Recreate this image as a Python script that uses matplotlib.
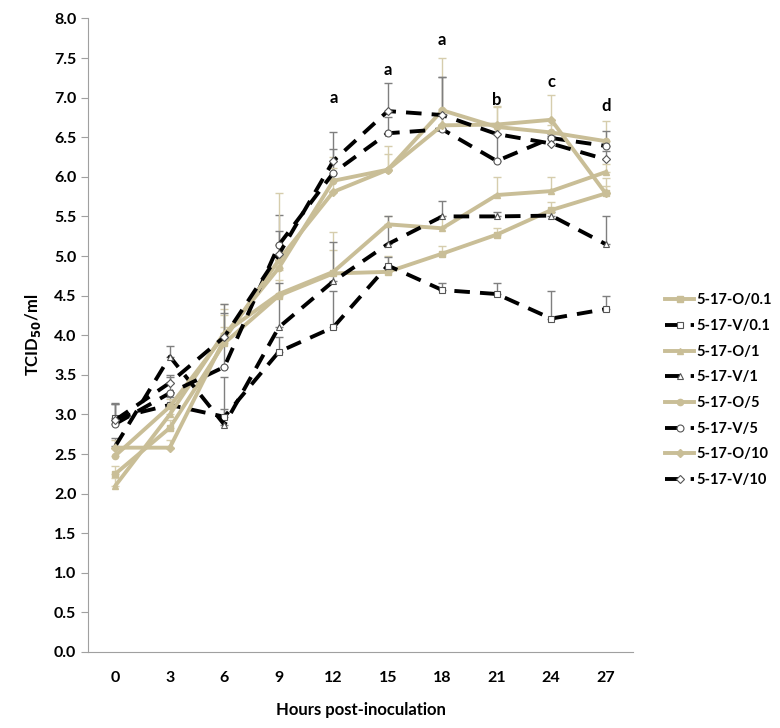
import matplotlib
matplotlib.use("Agg")
import matplotlib.pyplot as plt
import numpy as np

plt.rcParams['font.family'] = ['Lato', 'DejaVu Sans']

hours = [0, 3, 6, 9, 12, 15, 18, 21, 24, 27]

labels = ["5-17-O/0.1", "5-17-V/0.1", "5-17-O/1", "5-17-V/1",
          "5-17-O/5", "5-17-V/5", "5-17-O/10", "5-17-V/10"]

o_01 = [2.25, 2.83, 3.90, 4.50, 4.78, 4.80, 5.03, 5.27, 5.58, 5.79]
v_01 = [2.95, 3.12, 2.97, 3.79, 4.10, 4.88, 4.57, 4.52, 4.21, 4.33]
o_1 = [2.10, 3.00, 4.03, 4.52, 4.80, 5.40, 5.35, 5.77, 5.82, 6.06]
v_1 = [2.60, 3.73, 2.87, 4.10, 4.68, 5.15, 5.50, 5.50, 5.51, 5.15]
o_5 = [2.48, 3.10, 4.00, 4.85, 5.95, 6.09, 6.84, 6.63, 6.56, 6.45]
v_5 = [2.88, 3.27, 3.60, 5.14, 6.05, 6.55, 6.60, 6.20, 6.49, 6.39]
o_10 = [2.58, 2.58, 3.95, 4.95, 5.81, 6.09, 6.65, 6.66, 6.72, 5.79]
v_10 = [2.93, 3.40, 3.98, 5.02, 6.20, 6.83, 6.78, 6.54, 6.42, 6.22]

# upper error bars
o_01_err = [0.10, 0.10, 0.20, 0.20, 0.30, 0.20, 0.10, 0.08, 0.10, 0.10]
v_01_err = [0.20, 0.10, 0.10, 0.19, 0.46, 0.11, 0.09, 0.14, 0.35, 0.16]
o_1_err = [0.10, 0.10, 0.30, 0.30, 0.50, 0.10, 0.15, 0.23, 0.18, 0.10]
v_1_err = [0.10, 0.14, 0.60, 0.56, 0.50, 0.35, 0.20, 0.05, 0.05, 0.35]
o_5_err = [0.10, 0.10, 0.40, 0.30, 0.30, 0.30, 0.66, 0.25, 0.10, 0.25]
v_5_err = [0.25, 0.20, 0.79, 0.38, 0.30, 0.20, 0.66, 0.34, 0.05, 0.19]
o_10_err = [0.10, 0.10, 0.30, 0.85, 0.30, 0.20, 0.20, 0.23, 0.31, 0.20]
v_10_err = [0.20, 0.10, 0.30, 0.30, 0.36, 0.35, 0.48, 0.10, 0.10, 0.10]

letters = ["a", "a", "a", "b", "c", "d"]
letter_hours = [12, 15, 18, 21, 24, 27]
letter_y = [7.0, 7.35, 7.73, 6.97, 7.2, 6.9]

tan = '#C9BE97'
tan_err = '#D6CDAD'

fig = plt.figure(figsize=(7.8, 7.28), dpi=100)
ax = fig.add_axes([0.113, 0.1044, 0.6985, 0.8703])

series = [
    (o_01, o_01_err, 's', 'o'),
    (v_01, v_01_err, 's', 'v'),
    (o_1, o_1_err, '^', 'o'),
    (v_1, v_1_err, '^', 'v'),
    (o_5, o_5_err, 'o', 'o'),
    (v_5, v_5_err, 'o', 'v'),
    (o_10, o_10_err, 'D', 'o'),
    (v_10, v_10_err, 'D', 'v'),
]

for (vals, err, mk, kind), lab in zip(series, labels):
    if kind == 'o':
        ax.errorbar(hours, vals, yerr=[np.zeros(len(err)), err], fmt='none',
                    ecolor=tan_err, elinewidth=1, capsize=3, zorder=2)
        ax.plot(hours, vals, color=tan, lw=2.8, marker=mk, ms=4.5,
                mfc=tan, mec=tan, label=lab, zorder=3)
    else:
        ax.errorbar(hours, vals, yerr=[np.zeros(len(err)), err], fmt='none',
                    ecolor='#7f7f7f', elinewidth=1, capsize=3, zorder=2)
        ax.plot(hours, vals, color='black', lw=2.8, ls=(0, (4, 2.6)),
                marker=mk, ms=5 if mk != 'D' else 4, mfc='white',
                mec='#555555', mew=0.8, label=lab, zorder=3)

for t, y, s in zip(letter_hours, letter_y, letters):
    ax.text(t, y, s, ha='center', va='center', fontsize=12, fontweight='bold')

ax.set_xlim(-1.5, 28.5)
ax.set_ylim(0, 8)
ax.set_xticks(hours)
ax.set_yticks(np.arange(0, 8.01, 0.5))
ax.set_yticklabels([f"{v:.1f}" for v in np.arange(0, 8.01, 0.5)])
ax.tick_params(axis='x', length=0, pad=14, labelsize=11.5)
ax.tick_params(axis='y', length=5, color='#a0a0a0', labelsize=11.5)
for lab in ax.get_xticklabels() + ax.get_yticklabels():
    lab.set_fontweight('bold')

ax.spines['top'].set_visible(False)
ax.spines['right'].set_visible(False)
ax.spines['left'].set_color('#a0a0a0')
ax.spines['bottom'].set_color('#a0a0a0')

ax.set_xlabel("Hours post-inoculation", fontsize=12, fontweight='bold', labelpad=12)
ax.set_ylabel("TCID$_{\\mathbf{50}}$/ml", fontsize=12, fontweight='bold', labelpad=8)

ax.legend(loc='center left', bbox_to_anchor=(1.035, 0.413), frameon=False,
          prop={'weight': 'bold', 'size': 10.5},
          handlelength=2.0, handletextpad=0.15, labelspacing=0.8)

fig.savefig("out.png", dpi=100)
